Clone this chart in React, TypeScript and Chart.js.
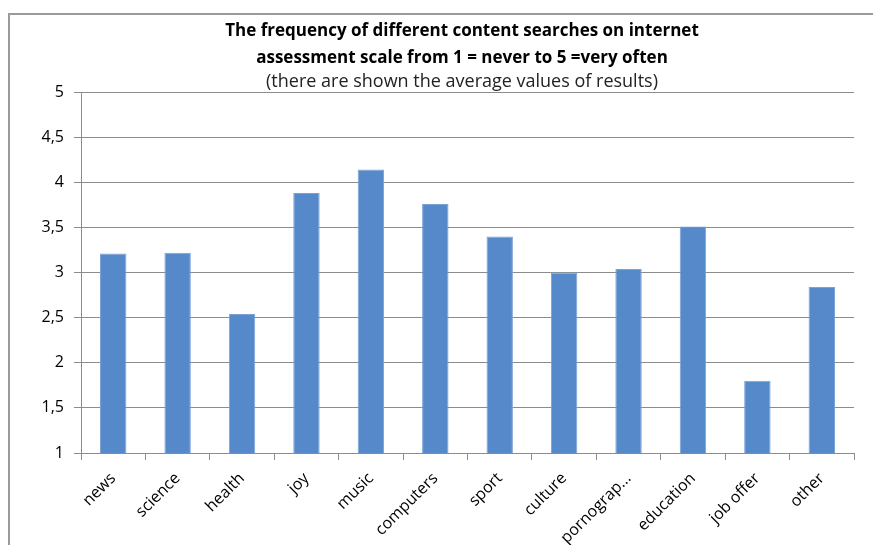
import React, { useEffect, useRef } from "react";
import { Chart, registerables } from "chart.js";

Chart.register(...registerables);

const categories = [
  "news", "science", "health", "joy", "music", "computers",
  "sport", "culture", "pornograp...", "education", "job offer", "other",
];
const averages = [3.21, 3.22, 2.54, 3.88, 4.14, 3.76, 3.40, 3.0, 3.04, 3.51, 1.80, 2.84];
const titleLines = [
  "The frequency of different content searches on internet",
  "assessment scale from 1 = never to 5 =very often",
  "(there are shown the average values of results)",
];
const yMin = 1;
const yMax = 5;
const yStep = 0.5;

const FONT = "'Open Sans', 'Liberation Sans', sans-serif";

const titlePlugin = {
  id: "multiTitle",
  afterDraw(chart: any) {
    const ctx = chart.ctx;
    ctx.save();
    ctx.fillStyle = "#000";
    ctx.textAlign = "center";
    ctx.textBaseline = "middle";
    const cx = 452;
    ctx.font = `bold 17px ${FONT}`;
    ctx.fillText(titleLines[0], cx, 16);
    ctx.fillText(titleLines[1], cx, 43);
    ctx.font = `18px ${FONT}`;
    ctx.fillStyle = "#222";
    ctx.fillText(titleLines[2], cx, 67);
    ctx.restore();
  },
};

export default function App() {
  const ref = useRef<HTMLCanvasElement>(null);
  useEffect(() => {
    if (!ref.current) return;
    const chart = new Chart(ref.current, {
      type: "bar",
      data: {
        labels: categories,
        datasets: [
          {
            data: averages,
            backgroundColor: "#5589C9",
            borderColor: "#7BA2D6",
            borderWidth: { top: 1, left: 1, right: 1, bottom: 0 },
            barPercentage: 0.41,
            categoryPercentage: 1,
          },
        ],
      },
      options: {
        animation: false,
        responsive: false,
        maintainAspectRatio: false,
        layout: { padding: { top: 77, right: 27, bottom: 0, left: 0 } },
        plugins: { legend: { display: false }, title: { display: false }, tooltip: { enabled: false } },
        scales: {
          x: {
            grid: {
              offset: true,
              drawOnChartArea: false,
              drawTicks: true,
              tickLength: 7,
              color: "#8c8c8c",
            },
            border: { color: "#8c8c8c", width: 1 },
            ticks: {
              minRotation: 45,
              maxRotation: 45,
              padding: 9,
              color: "#000",
              font: { family: FONT, size: 16 },
              autoSkip: false,
            },
            afterFit: (s: any) => { s.height = 92; },
          },
          y: {
            min: yMin,
            max: yMax,
            grid: { color: "#8c8c8c", tickLength: 7, drawTicks: true },
            border: { color: "#8c8c8c", width: 1 },
            ticks: {
              stepSize: yStep,
              padding: 10,
              color: "#000",
              font: { family: FONT, size: 16 },
              callback: (v: any) => String(v).replace(".", ","),
            },
            afterFit: (s: any) => { s.width = 71; },
          },
        },
      },
      plugins: [titlePlugin],
    });
    return () => chart.destroy();
  }, []);
  return (
    <div style={{ paddingTop: 5 }}>
      <div
        style={{
          width: 873,
          height: 532,
          boxSizing: "border-box",
          borderTop: "2px solid #9a9a9a",
          borderLeft: "2px solid #9a9a9a",
          position: "relative",
          overflow: "hidden",
        }}
      >
        <canvas ref={ref} width={871} height={530} style={{ display: "block" }} />
      </div>
    </div>
  );
}
